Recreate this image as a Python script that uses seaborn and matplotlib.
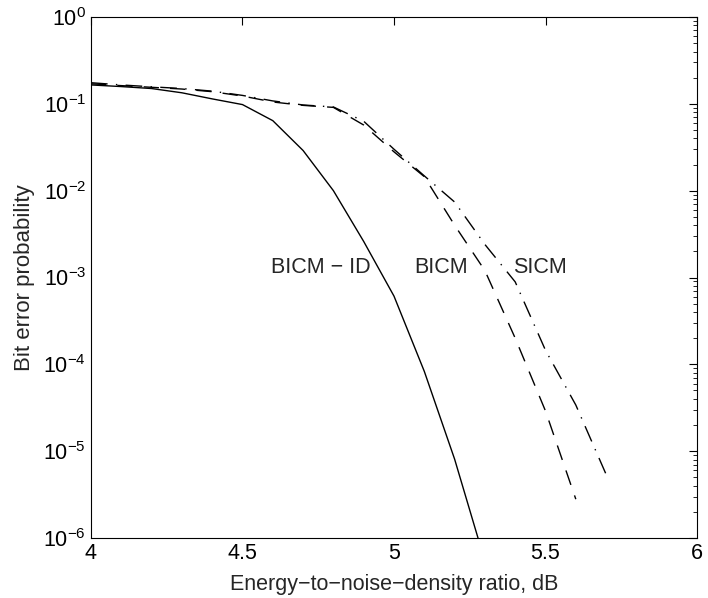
import numpy as np
import pandas as pd
import seaborn as sns
import matplotlib
matplotlib.use("Agg")
import matplotlib.pyplot as plt
from matplotlib.ticker import LogLocator, NullFormatter

# values
snr_bicm_id = [4.0, 4.1, 4.2, 4.3, 4.4, 4.5, 4.6, 4.7, 4.8, 4.9, 5.0, 5.1, 5.2, 5.3]
ber_bicm_id = [0.165, 0.158, 0.15, 0.134, 0.114, 0.098, 0.064, 0.029, 0.010,
               2.6e-3, 6.1e-4, 8.3e-5, 8.1e-6, 5.4e-7]

snr_bicm = [4.0, 4.1, 4.2, 4.3, 4.4, 4.5, 4.6, 4.7, 4.8, 4.9, 5.0, 5.1, 5.2, 5.3, 5.4, 5.5, 5.6]
ber_bicm = [0.17, 0.162, 0.155, 0.148, 0.138, 0.123, 0.105, 0.096, 0.091,
            0.057, 0.028, 0.0145, 4.0e-3, 1.2e-3, 2.0e-4, 2.9e-5, 2.8e-6]

snr_sicm = [4.0, 4.1, 4.2, 4.3, 4.4, 4.5, 4.6, 4.7, 4.8, 4.9, 5.0, 5.1, 5.2, 5.3, 5.4, 5.5, 5.6, 5.7]
ber_sicm = [0.175, 0.165, 0.157, 0.15, 0.14, 0.125, 0.108, 0.097, 0.092,
            0.063, 0.030, 0.0148, 7.4e-3, 2.4e-3, 8.9e-4, 1.45e-4, 3.4e-5, 5.4e-6]

labels = ["BICM \u2212 ID", "BICM", "SICM"]
xticks = [4, 4.5, 5, 5.5, 6]
xtick_labels = ["4", "4.5", "5", "5.5", "6"]
ytick_exps = [-6, -5, -4, -3, -2, -1, 0]

df = pd.concat([
    pd.DataFrame({"snr": snr_bicm_id, "ber": ber_bicm_id, "scheme": labels[0]}),
    pd.DataFrame({"snr": snr_bicm, "ber": ber_bicm, "scheme": labels[1]}),
    pd.DataFrame({"snr": snr_sicm, "ber": ber_sicm, "scheme": labels[2]}),
])

sns.set_style("white")
plt.rcParams["font.family"] = ["Liberation Sans", "DejaVu Sans"]
plt.rcParams["mathtext.fontset"] = "custom"
plt.rcParams["mathtext.rm"] = "Liberation Sans"
plt.rcParams["mathtext.it"] = "Liberation Sans"

fs = 15.5

fig = plt.figure(figsize=(7.08, 5.98), dpi=100)
ax = fig.add_axes([0.1285, 0.1003, 0.856, 0.8713])

sns.lineplot(data=df, x="snr", y="ber", style="scheme", hue="scheme",
             palette={l: "black" for l in labels},
             dashes={labels[0]: "", labels[1]: (11, 8), labels[2]: (12, 6, 1, 6)},
             linewidth=1.0, legend=False, sort=False, ax=ax)

ax.set_yscale("log")
ax.set_xlim(4, 6)
ax.set_ylim(1e-6, 1)
ax.set_xticks(xticks)
ax.set_xticklabels(xtick_labels)
ax.set_yticks([10.0 ** e for e in ytick_exps])
ax.set_yticklabels([f"$10^{{{e}}}$" for e in ytick_exps])
ax.yaxis.set_minor_locator(LogLocator(base=10, subs=np.arange(2, 10), numticks=20))
ax.yaxis.set_minor_formatter(NullFormatter())
ax.set_ylim(1e-6, 1)

ax.tick_params(which="both", direction="in", top=True, right=True,
               labelsize=fs, colors="black")
ax.tick_params(which="major", length=6, width=0.8)
ax.tick_params(which="minor", length=3, width=0.6)
for s in ax.spines.values():
    s.set_color("black")
    s.set_linewidth(0.8)

ax.set_xlabel("Energy\u2212to\u2212noise\u2212density ratio, dB", fontsize=fs, labelpad=7)
ax.set_ylabel("Bit error probability", fontsize=fs + 0.5, labelpad=6)

ax.text(4.76, 1.3e-3, labels[0], fontsize=fs, ha="center", va="center")
ax.text(5.155, 1.3e-3, labels[1], fontsize=fs, ha="center", va="center")
ax.text(5.48, 1.3e-3, labels[2], fontsize=fs, ha="center", va="center")

fig.savefig("out.png", dpi=100)
